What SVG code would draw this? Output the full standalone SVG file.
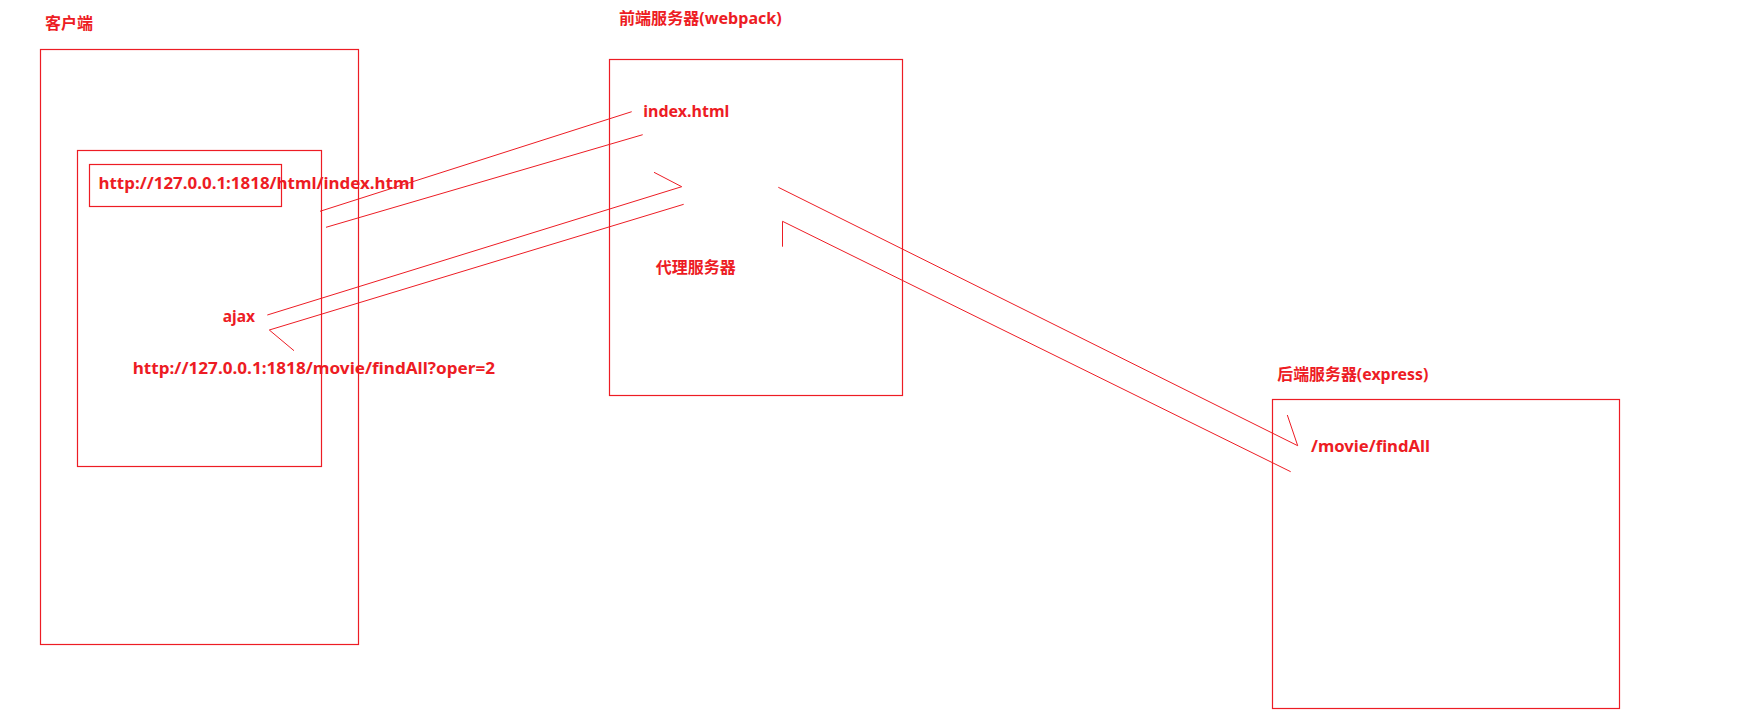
<svg xmlns="http://www.w3.org/2000/svg" width="1737" height="728" viewBox="0 0 1737 728">
<style>
.box{fill:none;stroke:#ed1c24;stroke-width:1.2}
.ln{fill:none;stroke:#ed1c24;stroke-width:1}
.t{fill:#ed1c24;font-family:"Noto Sans","Noto Sans CJK SC",sans-serif;font-weight:bold;font-size:16px}
</style>
<rect width="1737" height="728" fill="#fff"/>
<g id="client">
<text class="t" x="45" y="29" textLength="48" lengthAdjust="spacingAndGlyphs">客户端</text>
<rect class="box" x="40.5" y="49.5" width="318" height="595"/>
</g>
<g id="browser">
<rect class="box" x="77.5" y="150.5" width="244" height="316"/>
</g>
<g id="url-box">
<rect class="box" x="89.5" y="164.5" width="192" height="42"/>
<text class="t" x="98.5" y="189" textLength="316" lengthAdjust="spacingAndGlyphs">http://127.0.0.1:1818/html/index.html</text>
</g>
<g id="ajax">
<text class="t" x="222.7" y="322" textLength="32.3" lengthAdjust="spacingAndGlyphs">ajax</text>
<text class="t" x="132.7" y="374" textLength="362.3" lengthAdjust="spacingAndGlyphs">http://127.0.0.1:1818/movie/findAll?oper=2</text>
</g>
<g id="frontend">
<text class="t" x="619" y="24" textLength="162.7" lengthAdjust="spacingAndGlyphs">前端服务器(webpack)</text>
<rect class="box" x="609.5" y="59.5" width="293" height="336"/>
<text class="t" x="643.3" y="116.5" textLength="86" lengthAdjust="spacingAndGlyphs">index.html</text>
</g>
<g id="proxy">
<text class="t" x="655.7" y="273" textLength="80" lengthAdjust="spacingAndGlyphs">代理服务器</text>
</g>
<g id="backend">
<text class="t" x="1277.3" y="380" textLength="151" lengthAdjust="spacingAndGlyphs">后端服务器(express)</text>
<rect class="box" x="1272.5" y="399.5" width="347" height="309"/>
<text class="t" x="1311" y="451.5" textLength="119" lengthAdjust="spacingAndGlyphs">/movie/findAll</text>
</g>
<g id="connectors">
<line class="ln" x1="320" y1="211.3" x2="631.7" y2="111.7"/>
<line class="ln" x1="326" y1="227.3" x2="642.7" y2="134.7"/>
<polyline class="ln" points="267.3,315 681.7,186.7 654,172.3"/>
<polyline class="ln" points="294,350.7 269.3,330 683.7,204.3"/>
<polyline class="ln" points="778.3,187.3 1297.7,445.7 1287.3,415"/>
<polyline class="ln" points="782.5,246.7 782.5,221.3 1290.7,471.7"/>
</g>
</svg>
